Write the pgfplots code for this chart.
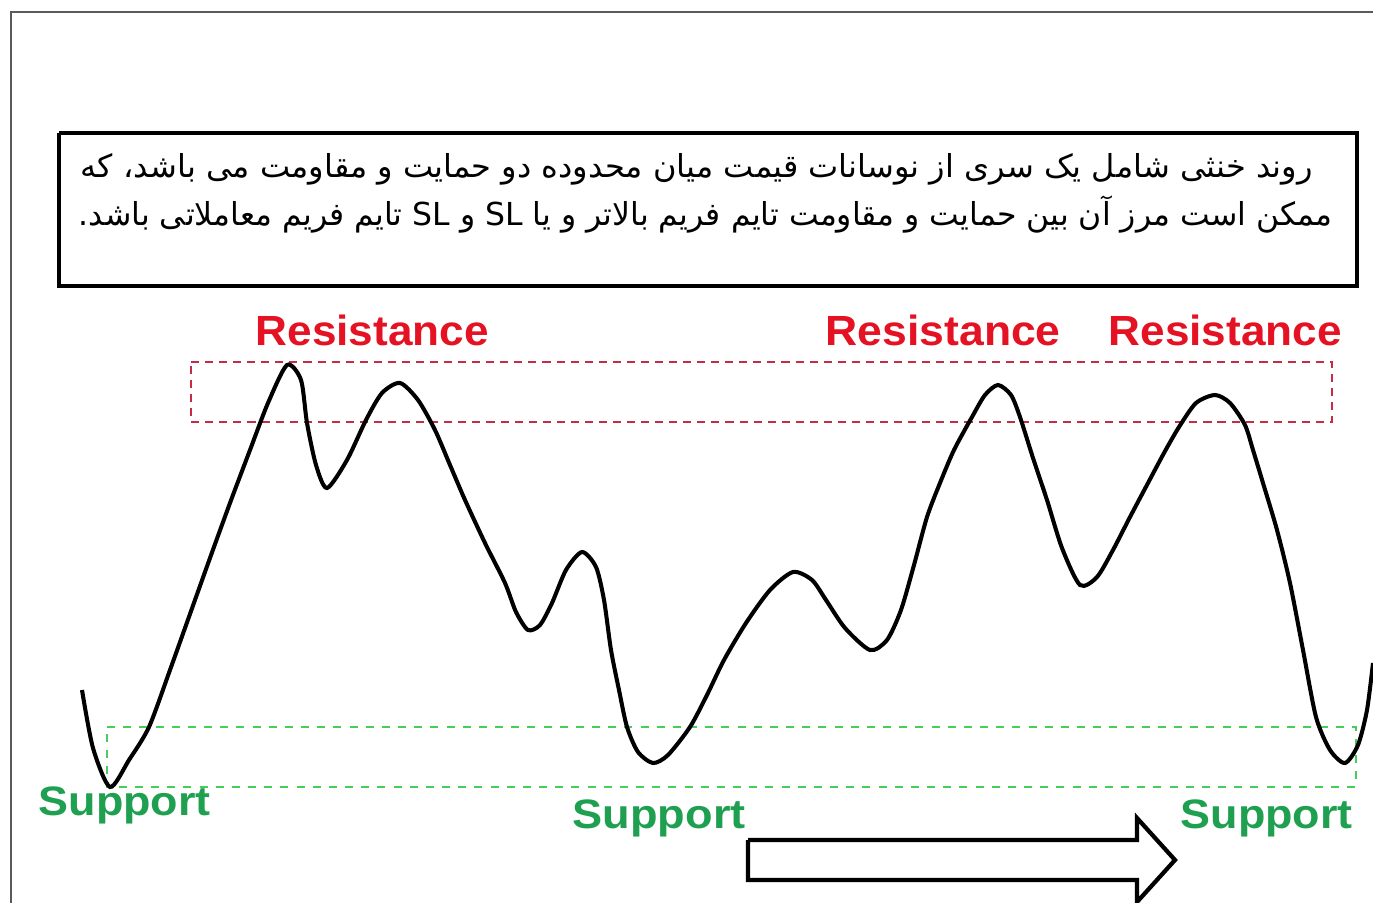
\documentclass[border=0pt]{standalone}
\usepackage{pgfplots}
\pgfplotsset{compat=1.18}
\usepackage{graphicx}
\usepackage{fontspec}
\setmainfont{Liberation Sans}
\newfontfamily\arabicfont[Script=Arabic]{DejaVu Sans}
\TeXXeTstate=1
\definecolor{resred}{RGB}{228,18,35}
\definecolor{supgreen}{RGB}{30,160,80}
\definecolor{boxred}{RGB}{195,45,70}
\definecolor{boxgreen}{RGB}{70,205,90}
\definecolor{framegray}{RGB}{90,90,90}
\begin{document}
\begin{tikzpicture}
\begin{axis}[name=ax, scale only axis, width=13.73cm, height=9.03cm,
  xmin=0, xmax=1373, ymin=0, ymax=903, y dir=reverse, hide axis, clip=false]
% outer frame
\addplot[framegray, line width=0.85pt] coordinates {(11,903) (11,12) (1373,12)};
% text box
\addplot[black, line width=0.9pt] coordinates {(59,133) (1357,133) (1357,286) (59,286) (59,133)};
% resistance zone
\addplot[boxred, line width=0.55pt, dash pattern=on 2.3pt off 1.7pt] coordinates {(191,362) (1332,362) (1332,422) (191,422) (191,362)};
% support zone
\addplot[boxgreen, line width=0.55pt, dash pattern=on 2.3pt off 2.3pt] coordinates {(107,727) (1356,727) (1356,787) (107,787) (107,727)};
% price curve
\addplot[black, line width=1.15pt, smooth, tension=0.45] coordinates {
(82,690) (93,748) (110,787) (129,760) (149,727) (170,670) (190,614) (210,558)
(230,503) (250,450) (268,403) (287,365) (301,380) (307,423) (316,465) (327,488)
(347,460) (366,420) (382,393) (400,383) (418,400) (435,430) (450,465) (465,500)
(485,543) (505,583) (516,612) (528,630) (540,625) (552,603) (566,570) (582,552)
(596,567) (604,600) (611,650) (619,690) (627,727) (638,752) (653,763) (668,755)
(690,727) (707,695) (724,660) (746,623) (770,590) (793,572) (812,580) (826,600)
(845,628) (870,650) (887,640) (901,610) (914,565) (927,517) (940,483) (954,450)
(972,417) (985,395) (998,385) (1011,395) (1020,417) (1033,458) (1047,500)
(1062,548) (1080,585) (1097,577) (1113,550) (1130,517) (1148,483) (1164,453)
(1179,427) (1196,403) (1215,395) (1230,403) (1245,425) (1253,450) (1263,483)
(1277,530) (1290,583) (1303,650) (1316,717) (1330,750) (1345,763) (1358,745)
(1367,710) (1373,663)};
% arrow
\addplot[black, line width=1.2pt, line join=miter] coordinates {(748,840) (1137,840) (1137,818) (1175,860) (1137,902) (1137,880) (748,880) (748,840)};
% texts
\node[anchor=base west, inner sep=0pt] at (axis cs:80,178) {\resizebox{123.2mm}{\height}{\arabicfont\fontsize{9}{10}\selectfont\beginR روند خنثی شامل یک سری از نوسانات قیمت میان محدوده دو حمایت و مقاومت می باشد، که\endR}};
\node[anchor=base west, inner sep=0pt] at (axis cs:78,225) {\resizebox{125.4mm}{\height}{\arabicfont\fontsize{9}{10}\selectfont\beginR ممکن است مرز آن بین حمایت و مقاومت تایم فریم بالاتر و یا SL و SL تایم فریم معاملاتی باشد.\endR}};
\node[anchor=base west, inner sep=0pt, text=resred] at (axis cs:255,345) {\resizebox{23.3mm}{\height}{\fontsize{12}{14}\selectfont\bfseries Resistance}};
\node[anchor=base west, inner sep=0pt, text=resred] at (axis cs:825,345) {\resizebox{23.5mm}{\height}{\fontsize{12}{14}\selectfont\bfseries Resistance}};
\node[anchor=base west, inner sep=0pt, text=resred] at (axis cs:1108,345) {\resizebox{23.3mm}{\height}{\fontsize{12}{14}\selectfont\bfseries Resistance}};
\node[anchor=base west, inner sep=0pt, text=supgreen] at (axis cs:38,815) {\resizebox{17.2mm}{\height}{\fontsize{11.7}{14}\selectfont\bfseries Support}};
\node[anchor=base west, inner sep=0pt, text=supgreen] at (axis cs:572,828) {\resizebox{17.3mm}{\height}{\fontsize{11.7}{14}\selectfont\bfseries Support}};
\node[anchor=base west, inner sep=0pt, text=supgreen] at (axis cs:1180,828) {\resizebox{17.2mm}{\height}{\fontsize{11.7}{14}\selectfont\bfseries Support}};
\end{axis}
\pgfresetboundingbox
\path[use as bounding box] (ax.south west) rectangle (ax.north east);
\end{tikzpicture}
\end{document}
